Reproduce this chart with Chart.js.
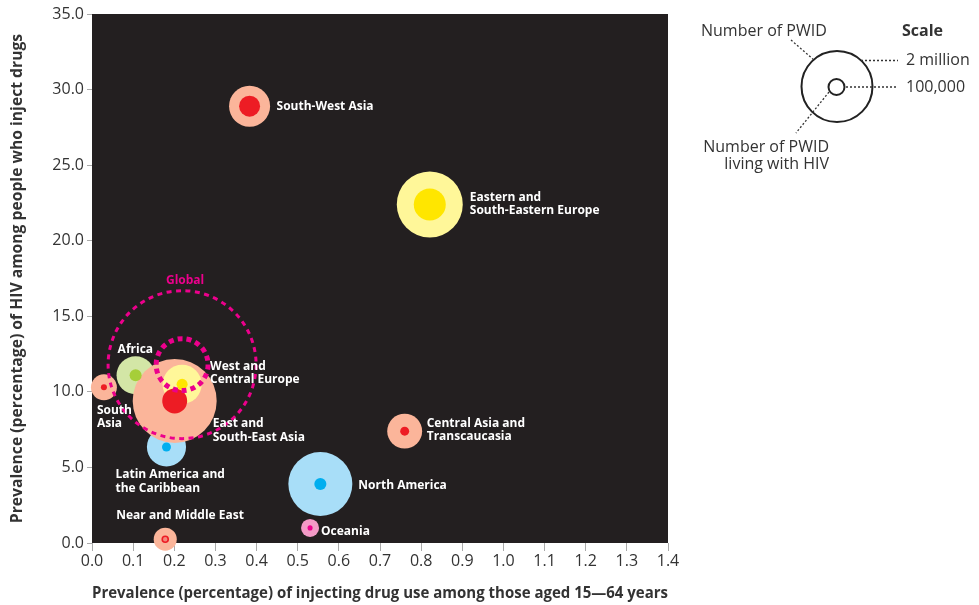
<!DOCTYPE html>
<html lang="en">
  <head>
    <meta charset="UTF-8" />
    <title>PWID and HIV prevalence by region</title>
    <script src="https://cdn.jsdelivr.net/npm/chart.js@4"></script>
    <style>
      body { margin: 0; background: #fff; font-family: "Open Sans", sans-serif; color: #333; }
      #wrap { position: relative; width: 979px; height: 605px; }
      .lg { position: absolute; font-size: 16px; white-space: nowrap; line-height: 17px; }
    </style>
  </head>
  <body>
    <div id="wrap">
      <canvas id="myChart" width="979" height="605"></canvas>
      <svg style="position:absolute;left:0;top:0" width="979" height="605">
        <circle cx="837" cy="86.5" r="35.5" fill="none" stroke="#222" stroke-width="2" />
        <circle cx="836.5" cy="87" r="8" fill="none" stroke="#222" stroke-width="2" />
        <g stroke="#333" stroke-width="1.3" stroke-dasharray="2,2">
          <line x1="861" y1="60.5" x2="898" y2="60.5" />
          <line x1="846" y1="87" x2="898" y2="87" />
          <line x1="791" y1="40" x2="814" y2="60" />
          <line x1="829" y1="92" x2="796" y2="133" />
        </g>
      </svg>
      <div class="lg" style="left:701px;top:22px">Number of PWID</div>
      <div class="lg" style="left:902px;top:22px;font-weight:bold">Scale</div>
      <div class="lg" style="left:906px;top:51px">2 million</div>
      <div class="lg" style="left:906px;top:78px">100,000</div>
      <div class="lg" style="left:680px;top:138px;width:149px;text-align:right">Number of PWID<br>living with HIV</div>
    </div>
    <script>
      // regions, drawn in this order (later ones on top)
      const regions = ['Latin America and the Caribbean', 'Africa', 'South Asia', 'East and South-East Asia',
        'West and Central Europe', 'South-West Asia', 'Eastern and South-Eastern Europe',
        'Central Asia and Transcaucasia', 'North America', 'Oceania', 'Near and Middle East'];
      // prevalence of injecting drug use (% of 15-64)
      const useRate = [0.181, 0.106, 0.029, 0.201, 0.219, 0.383, 0.821, 0.760, 0.555, 0.530, 0.178];
      // prevalence of HIV among PWID (%)
      const hivRate = [6.35, 11.1, 10.3, 9.4, 10.5, 28.9, 22.4, 7.4, 3.9, 1.0, 0.25];
      // number of PWID (thousands)
      const pwid = [590, 560, 260, 2720, 590, 650, 1680, 470, 1580, 125, 205];
      // number of PWID living with HIV (thousands)
      const pwidHiv = [31, 56, 14, 240, 47, 170, 395, 31, 56, 10, 14];
      const colorGroup = ['blue', 'green', 'red', 'red', 'yellow', 'red', 'yellow', 'red', 'blue', 'pink', 'red'];

      const globalPoint = { x: 0.219, y: 11.8, pwid: 8450, pwidHiv: 1040 };

      const outerColors = { red: '#FBB59A', yellow: '#FFF799', blue: '#A8DEF8', green: '#D3E6A6', pink: '#F39AC6' };
      const innerColors = { red: '#ED1C24', yellow: '#FFE600', blue: '#00AEEF', green: '#A6CE39', pink: '#EC008C' };

      // label text lines and offset from the bubble centre
      const labelLines = [['Latin America and', 'the Caribbean'], ['Africa'], ['South', 'Asia'], ['East and', 'South-East Asia'],
        ['West and', 'Central Europe'], ['South-West Asia'], ['Eastern and', 'South-Eastern Europe'],
        ['Central Asia and', 'Transcaucasia'], ['North America'], ['Oceania'], ['Near and Middle East']];
      const labelOffset = [[-51, 28], [-18, -26], [-7, 23], [38, 23], [28, -18], [27, 0], [40, -7], [22, -8], [38, 2], [11, 4], [-49, -24]];

      const xTicks = [];
      for (let i = 0; i <= 14; i++) xTicks.push(i / 10);

      // bubble radius in px: 2 million PWID -> 36px, area proportional
      function radius(thousands) { return 36 * Math.sqrt(thousands / 2000); }

      const outerData = regions.map((r, i) => ({ x: useRate[i], y: hivRate[i], r: radius(pwid[i]) }));
      const innerData = regions.map((r, i) => ({ x: useRate[i], y: hivRate[i], r: radius(pwidHiv[i]) }));
      // the smallest red marker is drawn as a ring
      const innerBorder = regions.map((r, i) => i === 10 ? 1.6 : 0);
      const innerFill = regions.map((r, i) => i === 10 ? '#F4877B' : innerColors[colorGroup[i]]);

      const plotBg = {
        id: 'plotBg',
        beforeDraw(chart) {
          const a = chart.chartArea, ctx = chart.ctx;
          ctx.save();
          ctx.fillStyle = '#231F20';
          ctx.fillRect(a.left, a.top, a.right - a.left, a.bottom - a.top);
          ctx.restore();
        }
      };

      const extras = {
        id: 'extras',
        afterDatasetsDraw(chart) {
          const ctx = chart.ctx, xs = chart.scales.x, ys = chart.scales.y;
          ctx.save();
          // global dashed rings
          const gx = xs.getPixelForValue(globalPoint.x), gy = ys.getPixelForValue(globalPoint.y);
          ctx.strokeStyle = '#EC008C';
          ctx.lineWidth = 3;
          ctx.setLineDash([5, 4.5]);
          ctx.beginPath();
          ctx.arc(gx, gy, radius(globalPoint.pwid), 0, Math.PI * 2);
          ctx.stroke();
          ctx.lineWidth = 5;
          ctx.setLineDash([5, 4]);
          ctx.beginPath();
          ctx.arc(gx, gy, radius(globalPoint.pwidHiv), 0, Math.PI * 2);
          ctx.stroke();
          ctx.setLineDash([]);
          ctx.font = 'bold 12px "Open Sans"';
          ctx.fillStyle = '#EC008C';
          ctx.textAlign = 'center';
          ctx.textBaseline = 'middle';
          ctx.fillText('Global', gx + 3, gy - 84);
          // region labels
          ctx.font = 'bold 12px "Open Sans"';
          ctx.fillStyle = '#fff';
          ctx.textAlign = 'left';
          regions.forEach((r, i) => {
            const px = xs.getPixelForValue(useRate[i]), py = ys.getPixelForValue(hivRate[i]);
            labelLines[i].forEach((t, j) => {
              ctx.fillText(t, px + labelOffset[i][0], py + labelOffset[i][1] + j * 13.5);
            });
          });
          ctx.restore();
        }
      };

      const ctx = document.getElementById('myChart').getContext('2d');
      new Chart(ctx, {
        type: 'bubble',
        data: {
          datasets: [
            {
              label: 'PWID living with HIV',
              data: innerData,
              backgroundColor: innerFill,
              borderColor: '#ED1C24',
              borderWidth: innerBorder,
              clip: false
            },
            {
              label: 'PWID',
              data: outerData,
              backgroundColor: colorGroup.map(c => outerColors[c]),
              borderWidth: 0,
              clip: false
            }
          ]
        },
        options: {
          responsive: false,
          animation: false,
          events: [],
          layout: { autoPadding: false, padding: { top: 14, right: 311, left: 0, bottom: 0 } },
          plugins: { legend: { display: false }, tooltip: { enabled: false } },
          scales: {
            x: {
              type: 'linear',
              min: 0, max: 1.4,
              afterBuildTicks: s => { s.ticks = xTicks.map(v => ({ value: v })); },
              afterFit: s => { s.height = 62; },
              ticks: { color: '#333', font: { family: 'Open Sans', size: 16 }, padding: 1, callback: v => v.toFixed(1) },
              grid: { drawOnChartArea: false, color: '#aaa', tickLength: 8 },
              border: { display: false },
              title: { display: true, text: 'Prevalence (percentage) of injecting drug use among those aged 15\u201464 years',
                color: '#333', font: { family: 'Open Sans', size: 16, weight: 'bold' }, padding: { top: 0, bottom: 2 } }
            },
            y: {
              type: 'linear',
              min: 0, max: 35,
              afterFit: s => { s.width = 92; },
              ticks: { stepSize: 5, color: '#333', font: { family: 'Open Sans', size: 16 }, padding: 3, callback: v => v.toFixed(1) },
              grid: { drawOnChartArea: false, color: '#aaa', tickLength: 5 },
              border: { display: false },
              title: { display: true, text: 'Prevalence (percentage) of HIV among people who inject drugs',
                color: '#333', font: { family: 'Open Sans', size: 15.7, weight: 'bold' }, padding: { top: 8, bottom: 0 } }
            }
          }
        },
        plugins: [plotBg, extras]
      });
    </script>
  </body>
</html>
